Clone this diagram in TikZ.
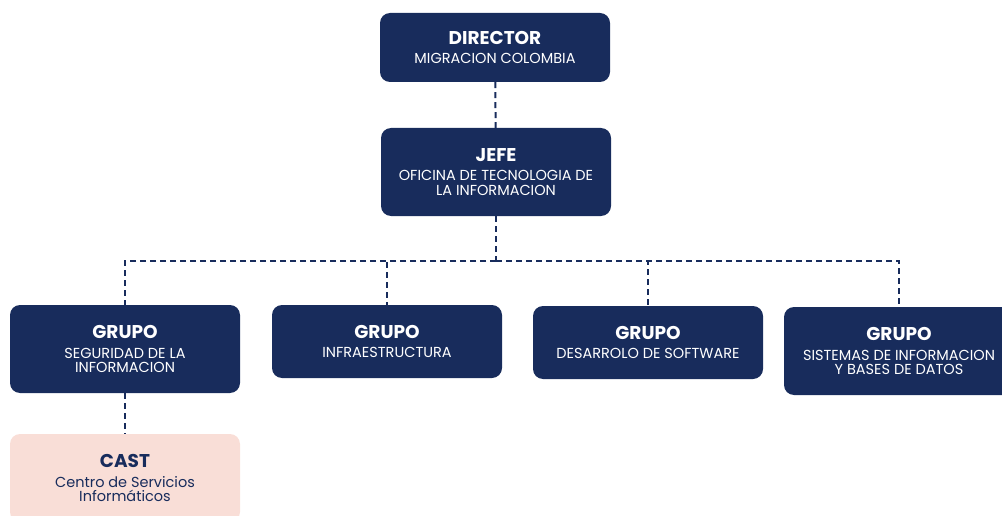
\documentclass[tikz,border=0pt]{standalone}
\usepackage{fontspec}
\setmainfont{Poppins}
\usetikzlibrary{positioning}
\definecolor{navy}{HTML}{182C5C}
\definecolor{rosa}{HTML}{F9DED7}
\newcommand{\titulo}[1]{{\fontsize{18.5}{21}\selectfont\bfseries #1}\\[5pt]}

\begin{document}
\begin{tikzpicture}[x=1pt, y=-1pt,
	box/.style={fill=navy, text=white, rounded corners=10pt, minimum width=230pt,
			align=center, inner sep=0pt, font=\fontsize{14.5}{14.5}\selectfont},
	pinkbox/.style={box, fill=rosa, text=navy},
	link/.style={draw=navy, line width=2pt, dash pattern=on 6pt off 4pt}]

	\useasboundingbox (0,0) rectangle (1002,516);

	% Top of the chart
	\node[box, minimum height=69pt] (director) at (495,47.5) {\titulo{DIRECTOR}MIGRACION COLOMBIA};
	\node[box, minimum height=88pt] (jefe) at (496,172) {\titulo{JEFE}OFICINA DE TECNOLOGIA DE\\LA INFORMACION};

	% The groups
	\node[box, minimum height=88pt] (seguridad) at (125,349) {\titulo{GRUPO}SEGURIDAD DE LA\\INFORMACION};
	\node[box, minimum height=73pt] (infra) at (387,341.5) {\titulo{GRUPO}INFRAESTRUCTURA};
	\node[box, minimum height=73pt] (software) at (648,342.5) {\titulo{GRUPO}DESARROLO DE SOFTWARE};
	\node[box, minimum height=88pt] (sistemas) at (899,351) {\titulo{GRUPO}SISTEMAS DE INFORMACION\\Y BASES DE DATOS};

	% CAST under security
	\node[pinkbox, minimum height=88pt] (cast) at (125,478) {\titulo{CAST}Centro de Servicios\\Informáticos};

	% Draw the dashed links
	\coordinate (bus) at (496,261);
	\draw[link] (director) -- (jefe);
	\draw[link] (jefe) -- (bus);
	\draw[link] (bus) -| (seguridad.north);
	\draw[link] (bus) -| (infra.north);
	\draw[link] (bus) -| (software.north);
	\draw[link] (bus) -| (sistemas.north);
	\draw[link] (seguridad) -- (cast);
\end{tikzpicture}
\end{document}
